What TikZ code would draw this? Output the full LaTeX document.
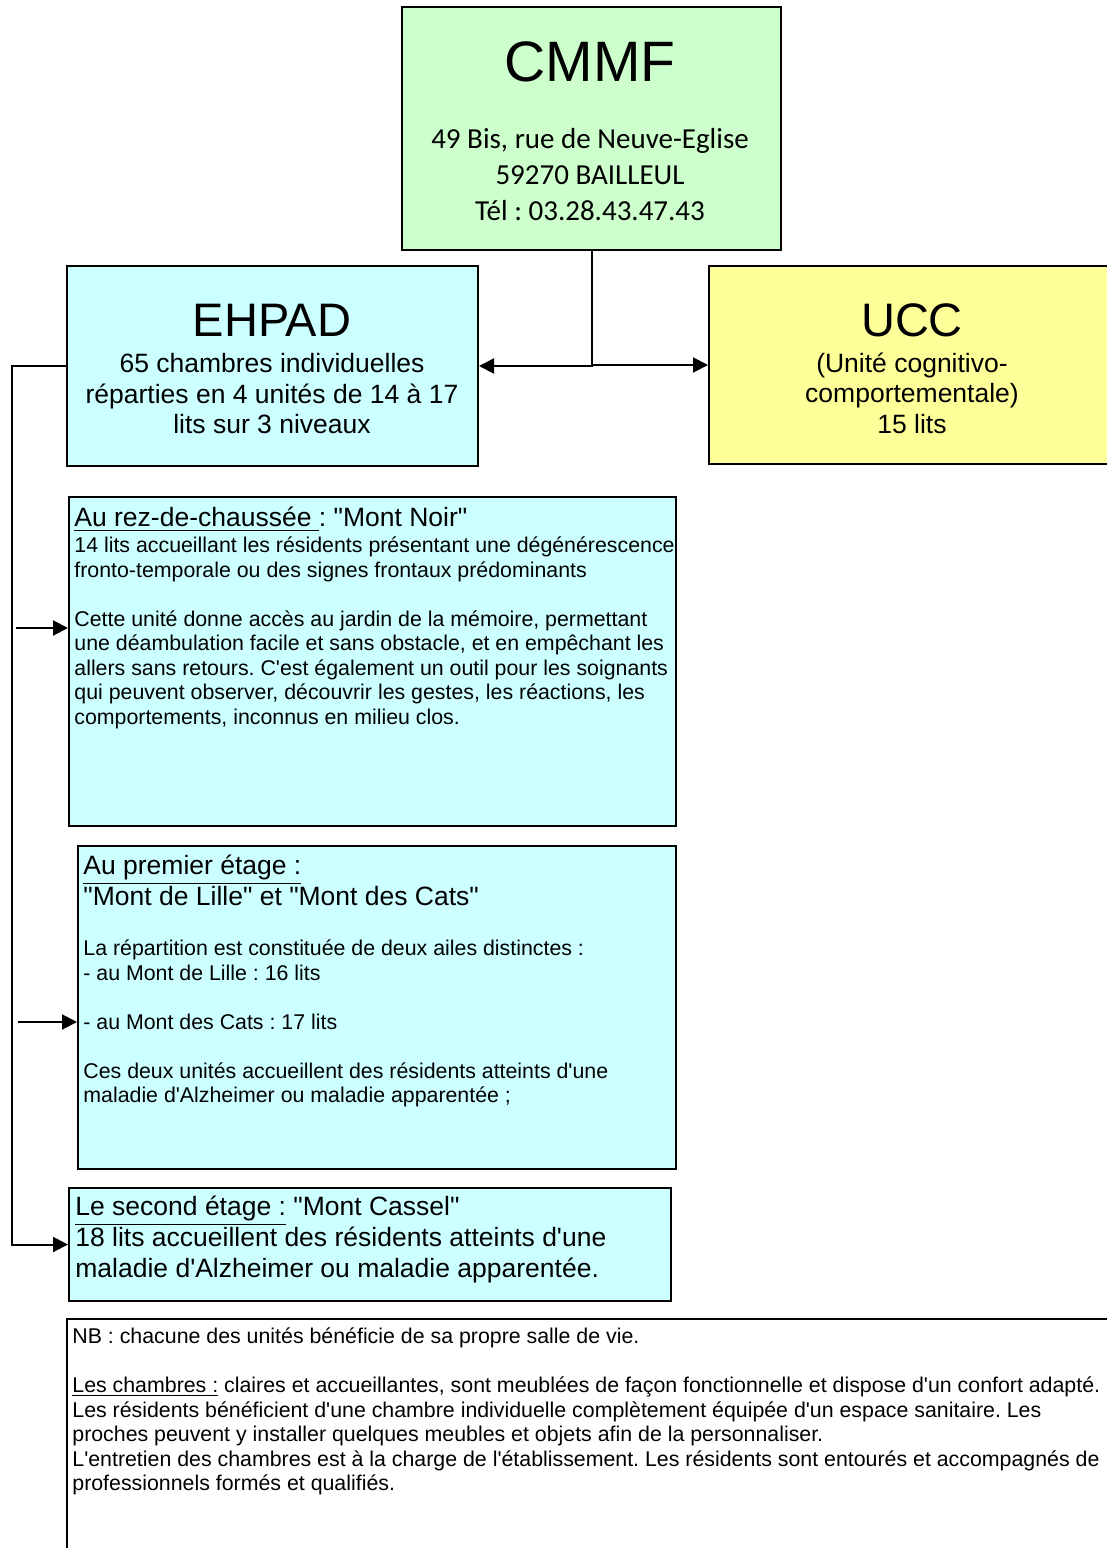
\documentclass[tikz,border=0pt]{standalone}
\usepackage{fontspec}
\setmainfont{Liberation Sans}[Ligatures=TeXOff]
\newfontfamily\adrfont{Carlito}
\usepackage{tikz}
\usetikzlibrary{arrows.meta}
\frenchspacing

\definecolor{vert}{HTML}{CCFFCC}
\definecolor{bleu}{HTML}{CCFFFF}
\definecolor{jaune}{HTML}{FFFF99}

\begin{document}
\begin{tikzpicture}
	[x=0.5pt,y=-0.5pt,
	 b/.style={rectangle,draw=black,line width=1pt,inner sep=0pt,anchor=north west},
	 titre/.style={inner sep=0pt,font=\fontsize{23.5}{28}\selectfont},
	 moyen/.style={inner sep=0pt,align=center,font=\fontsize{13.25}{15.25}\selectfont},
	 entete/.style={inner sep=0pt,align=left,anchor=north west,font=\fontsize{13.25}{15.5}\selectfont},
	 txt/.style={inner sep=0pt,align=left,anchor=north west,font=\fontsize{10.67}{12.25}\selectfont},
	 c/.style={line width=1pt,-{Triangle[length=7.5pt,width=7.5pt]}}]

	\useasboundingbox (0,0) rectangle (1107,1548);
	\clip (0,0) rectangle (1107,1548);

	% haut
	\node[b,fill=vert,minimum width=189.5pt,minimum height=121.5pt] (cmmf) at (401,6) {};
	\node[inner sep=0pt,font=\fontsize{28.5}{34}\selectfont] (cmmf-titre) at (590,62) {CMMF};
	\node[moyen,font=\adrfont\fontsize{14.5}{18}\selectfont] (cmmf-adr) at (590,175)
		{49 Bis, rue de Neuve-Eglise\\59270 BAILLEUL\\Tél : 03.28.43.47.43};

	\node[b,fill=bleu,minimum width=205.5pt,minimum height=100pt] (ehpad) at (66,265) {};
	\node[titre] (ehpad-titre) at (272,320) {EHPAD};
	\node[moyen] (ehpad-txt) at (272,394)
		{65 chambres individuelles\\réparties en 4 unités de 14 à 17\\lits sur 3 niveaux};

	\node[b,fill=jaune,minimum width=215pt,minimum height=99pt] (ucc) at (708,265) {};
	\node[titre] (ucc-titre) at (912,320) {UCC};
	\node[moyen] (ucc-txt) at (912,393)
		{(Unité cognitivo-\\comportementale)\\15 lits};

	% niveaux
	\node[b,fill=bleu,minimum width=303.5pt,minimum height=164.5pt] (rdc) at (68,496) {};
	\node[entete] (rdc-titre) at (74,507) {\underline{Au rez-de-chaussée\ }: "Mont Noir"};
	\node[txt] (rdc-txt) at (74,536.5)
		{14 lits accueillant les résidents présentant une dégénérescence\\
		fronto-temporale ou des signes frontaux prédominants\\
		~\\
		Cette unité donne accès au jardin de la mémoire, permettant\\
		une déambulation facile et sans obstacle, et en empêchant les\\
		allers sans retours. C'est également un outil pour les soignants\\
		qui peuvent observer, découvrir les gestes, les réactions, les\\
		comportements, inconnus en milieu clos.};

	\node[b,fill=bleu,minimum width=299pt,minimum height=161.5pt] (etage1) at (77,845) {};
	\node[entete] (etage1-titre) at (83,855)
		{\underline{Au premier étage :}\\"Mont de Lille" et "Mont des Cats"};
	\node[txt] (etage1-txt) at (83,939.5)
		{La répartition est constituée de deux ailes distinctes :\\
		- au Mont de Lille : 16 lits\\
		~\\
		- au Mont des Cats : 17 lits\\
		~\\
		Ces deux unités accueillent des résidents atteints d'une\\
		maladie d'Alzheimer ou maladie apparentée ;};

	\node[b,fill=bleu,minimum width=301pt,minimum height=56.5pt] (etage2) at (68,1187) {};
	\node[entete] (etage2-txt) at (75,1196)
		{\underline{Le second étage :} "Mont Cassel"\\
		18 lits accueillent des résidents atteints d'une\\
		maladie d'Alzheimer ou maladie apparentée.};

	\node[b,fill=white,minimum width=560pt,minimum height=150pt] (nb) at (66,1318) {};
	\node[txt] (nb-txt) at (72,1327.5)
		{NB : chacune des unités bénéficie de sa propre salle de vie.\\
		~\\
		\underline{Les chambres :} claires et accueillantes, sont meublées de façon fonctionnelle et dispose d'un confort adapté.\\
		Les résidents bénéficient d'une chambre individuelle complètement équipée d'un espace sanitaire. Les\\
		proches peuvent y installer quelques meubles et objets afin de la personnaliser.\\
		L'entretien des chambres est à la charge de l'établissement. Les résidents sont entourés et accompagnés de\\
		professionnels formés et qualifiés.};

	% liaisons
	\draw[c] (cmmf.south) |- (ehpad.east);
	\draw[c] (cmmf.south) |- (ucc.west);

	\coordinate (bus) at (12,365);
	\draw[c] (ehpad.west) -- (ehpad.west -| bus) |- (etage2.west);

	\coordinate (fl1) at (16,628);
	\coordinate (fl2) at (18,1022);
	\draw[c] (fl1) -- (fl1 -| rdc.west);
	\draw[c] (fl2) -- (fl2 -| etage1.west);

\end{tikzpicture}
\end{document}
